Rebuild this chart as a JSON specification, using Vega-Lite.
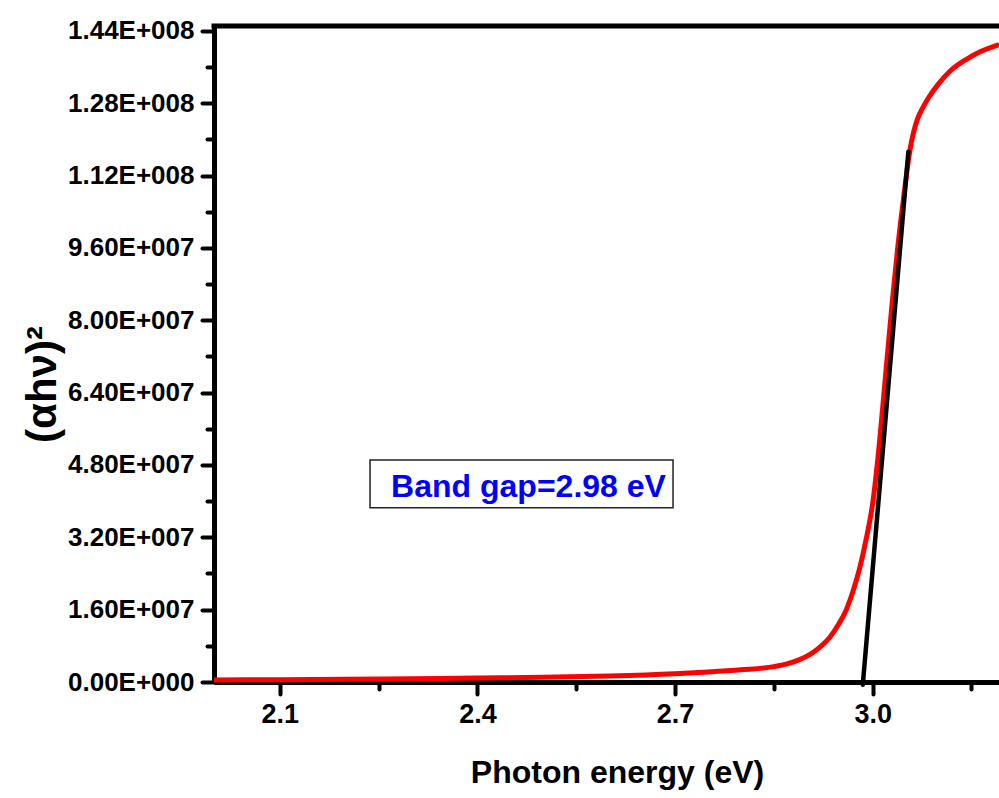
{
  "$schema": "https://vega.github.io/schema/vega-lite/v6.json",
  "width": 785,
  "height": 656,
  "autosize": "none",
  "padding": {"left": 214, "top": 26, "right": 0, "bottom": 116},
  "background": "white",
  "config": {
    "view": {"stroke": null},
    "axis": {
      "domainColor": "black",
      "domainWidth": 5,
      "tickColor": "black",
      "tickWidth": 4,
      "tickCap": "round",
      "grid": false,
      "labelColor": "black",
      "labelFont": "Liberation Sans",
      "labelFontWeight": "bold",
      "titleColor": "black",
      "labelFlush": false,
      "labelOverlap": false
    }
  },
  "datasets": {
    "curve": [
      {"E": 2.0, "v": 440000},
      {"E": 2.1, "v": 520000},
      {"E": 2.2, "v": 620000},
      {"E": 2.3, "v": 740000},
      {"E": 2.4, "v": 880000},
      {"E": 2.5, "v": 1050000},
      {"E": 2.6, "v": 1300000},
      {"E": 2.7, "v": 1800000},
      {"E": 2.75, "v": 2200000},
      {"E": 2.8, "v": 2700000},
      {"E": 2.85, "v": 3400000},
      {"E": 2.87, "v": 4000000},
      {"E": 2.89, "v": 5000000},
      {"E": 2.905, "v": 6100000},
      {"E": 2.92, "v": 7700000},
      {"E": 2.935, "v": 9900000},
      {"E": 2.948, "v": 12700000},
      {"E": 2.96, "v": 16000000},
      {"E": 2.97, "v": 20000000},
      {"E": 2.98, "v": 25000000},
      {"E": 2.99, "v": 31500000},
      {"E": 3.0, "v": 39500000},
      {"E": 3.01, "v": 52500000},
      {"E": 3.02, "v": 68500000},
      {"E": 3.03, "v": 84500000},
      {"E": 3.038, "v": 96000000},
      {"E": 3.049, "v": 109500000},
      {"E": 3.057, "v": 118000000},
      {"E": 3.062, "v": 121500000},
      {"E": 3.068, "v": 124500000},
      {"E": 3.076, "v": 127000000},
      {"E": 3.086, "v": 129500000},
      {"E": 3.1, "v": 132300000},
      {"E": 3.118, "v": 135200000},
      {"E": 3.143, "v": 137800000},
      {"E": 3.163, "v": 139400000},
      {"E": 3.1918, "v": 141000000}
    ],
    "fit": [
      {"E": 2.985, "v": -600000},
      {"E": 3.0542, "v": 117300000}
    ]
  },
  "layer": [
    {
      "data": {"name": "curve"},
      "mark": {"type": "line", "color": "#ff0000", "strokeWidth": 5, "interpolate": "monotone"},
      "encoding": {
        "x": {
          "field": "E", "type": "quantitative",
          "scale": {"domain": [2.0, 3.1918], "nice": false, "zero": false},
          "axis": {
            "orient": "bottom",
            "values": [2.1, 2.4, 2.7, 3.0],
            "format": ".1f",
            "tickSize": 12,
            "labelFontSize": 27,
            "labelPadding": 7,
            "title": "Photon energy (eV)",
            "titleFont": "Liberation Sans",
            "titleFontWeight": "bold",
            "titleFontSize": 32,
            "titleX": 403,
            "titleY": 100,
            "titleAlign": "center",
            "titleBaseline": "alphabetic"
          }
        },
        "y": {
          "field": "v", "type": "quantitative",
          "scale": {"domain": [0, 145100000], "nice": false, "zero": false},
          "axis": {
            "orient": "left",
            "values": [0, 16000000, 32000000, 48000000, 64000000, 80000000, 96000000, 112000000, 128000000, 144000000],
            "labelExpr": "replace(format(datum.value, '.2e'), 'e+', 'E+00')",
            "tickSize": 12,
            "labelFontSize": 26,
            "labelPadding": 8,
            "title": "(αhν)²",
            "titleFont": "Liberation Sans",
            "titleFontWeight": "bold",
            "titleFontSize": 42,
            "titleAngle": 270,
            "titleX": -172,
            "titleY": 358,
            "titleAlign": "center",
            "titleBaseline": "middle"
          }
        }
      }
    },
    {
      "data": {"name": "fit"},
      "mark": {"type": "line", "color": "black", "strokeWidth": 4.5, "strokeCap": "round"},
      "encoding": {
        "x": {
          "field": "E", "type": "quantitative",
          "axis": {
            "orient": "bottom",
            "values": [2.25, 2.55, 2.85, 3.15],
            "labels": false,
            "domain": false,
            "tickSize": 7,
            "title": null
          }
        },
        "y": {
          "field": "v", "type": "quantitative",
          "axis": {
            "orient": "left",
            "values": [8000000, 24000000, 40000000, 56000000, 72000000, 88000000, 104000000, 120000000, 136000000],
            "labels": false,
            "domain": false,
            "tickSize": 7,
            "title": null
          }
        }
      }
    },
    {
      "data": {"values": [{}]},
      "mark": {"type": "rule", "color": "black", "strokeWidth": 5, "strokeCap": "square"},
      "encoding": {
        "y": {"datum": 145100000, "type": "quantitative", "axis": null}
      }
    },
    {
      "data": {"values": [{}]},
      "mark": {"type": "rect", "fill": "white", "stroke": "#222222", "strokeWidth": 1.5},
      "encoding": {
        "x": {"datum": 2.2369, "type": "quantitative", "axis": null},
        "x2": {"datum": 2.6969},
        "y": {"datum": 49100000, "type": "quantitative", "axis": null},
        "y2": {"datum": 38550000}
      }
    },
    {
      "data": {"values": [{"label": "Band gap=2.98 eV"}]},
      "mark": {"type": "text", "color": "#0000ff", "font": "Liberation Sans", "fontWeight": "bold", "fontSize": 32, "align": "center", "baseline": "alphabetic"},
      "encoding": {
        "x": {"datum": 2.4775, "type": "quantitative", "axis": null},
        "y": {"datum": 40990000, "type": "quantitative", "axis": null},
        "text": {"field": "label"}
      }
    }
  ],
  "resolve": {"axis": {"x": "independent", "y": "independent"}}
}
